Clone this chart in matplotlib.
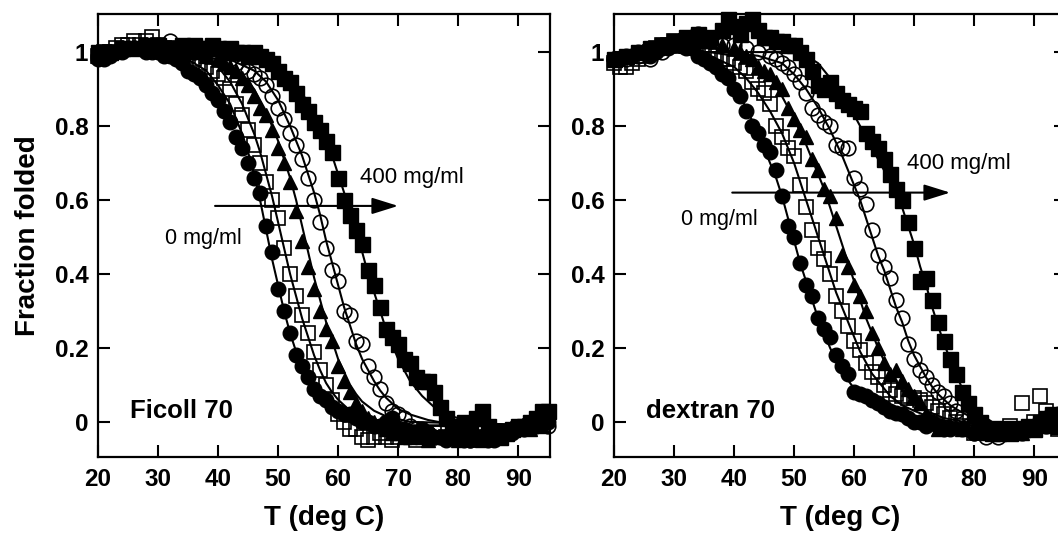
import matplotlib
matplotlib.use('Agg')
import matplotlib.pyplot as plt

plt.rcParams['font.family'] = ['Liberation Sans', 'DejaVu Sans']

# ---------------- axis ticks ----------------
x_ticks = [20, 30, 40, 50, 60, 70, 80, 90]
x_tick_labels = ['20', '30', '40', '50', '60', '70', '80', '90']
y_ticks = [0, 0.2, 0.4, 0.6, 0.8, 1.0]
y_tick_labels = ['0', '0.2', '0.4', '0.6', '0.8', '1']
panel_names = ['Ficoll 70', 'dextran 70']
low_label = '0 mg/ml'
high_label = '400 mg/ml'

# ---------------- Ficoll 70 (left) ----------------
L_circ_T = [20, 21, 22, 23, 24, 25, 26, 27, 28, 29,
            30, 31, 32, 33, 34, 35, 36, 37, 38, 39,
            40, 41, 42, 43, 44, 45, 46, 47, 48, 49,
            50, 51, 52, 53, 54, 55, 56, 57, 58, 59,
            60, 61, 62, 63, 64, 65, 66, 67, 68, 69,
            70, 71, 72, 73, 74, 75, 76, 77, 78, 79,
            80, 81, 82, 83, 84, 85, 86, 87, 88, 89,
            90, 91, 92, 93, 94, 95]
L_circ_F = [0.98, 0.98, 0.99, 1.00, 1.00, 1.01, 1.01, 1.01, 1.00, 1.00,
            1.00, 0.99, 0.99, 0.98, 0.97, 0.95, 0.94, 0.93, 0.91, 0.89,
            0.87, 0.84, 0.81, 0.77, 0.74, 0.70, 0.66, 0.62, 0.53, 0.46,
            0.36, 0.30, 0.24, 0.18, 0.15, 0.12, 0.09, 0.07, 0.06, 0.04,
            0.03, 0.02, 0.02, 0.01, 0.00, 0.00, -0.01, -0.01, 0.00, 0.01,
            -0.02, -0.02, -0.03, -0.03, -0.02, -0.03, -0.04, -0.04, -0.05, -0.04,
            -0.04, -0.05, -0.05, -0.04, -0.04, -0.05, -0.05, -0.04, -0.03, -0.03,
            -0.02, -0.02, -0.01, -0.01, 0.00, 0.00]

L_osq_T = [20, 21, 22, 23, 24, 25, 26, 27, 28, 29,
           30, 31, 32, 33, 34, 35, 36, 37, 38, 39,
           40, 41, 42, 43, 44, 45, 46, 47, 48, 49,
           50, 51, 52, 53, 54, 55, 56, 57, 58, 59,
           60, 61, 62, 63, 64, 65, 66, 67, 68, 69,
           70, 71, 72, 73, 74,
           76, 78, 80, 82, 84, 86, 88, 90, 92, 94]
L_osq_F = [0.99, 1.00, 1.00, 1.01, 1.02, 1.02, 1.03, 1.02, 1.03, 1.04,
           1.02, 1.01, 1.01, 1.00, 0.99, 0.99, 0.98, 0.97, 0.96, 0.95,
           0.94, 0.93, 0.90, 0.86, 0.83, 0.79, 0.75, 0.70, 0.65, 0.60,
           0.55, 0.47, 0.40, 0.34, 0.29, 0.24, 0.19, 0.14, 0.10, 0.06,
           0.02, 0.00, -0.02, -0.02, -0.04, -0.05, -0.04, -0.03, -0.04, -0.05,
           -0.04, -0.03, -0.04, -0.05, -0.04,
           -0.03, -0.04, -0.04, -0.05, -0.04, -0.03, -0.03, -0.02, -0.01, 0.00]

L_tri_T = [20, 22, 24, 26, 28, 30, 32, 34, 36, 38, 40,
           41, 42, 43, 44, 45, 46, 47, 48, 49, 50,
           51, 52, 53, 54, 55, 56, 57, 58, 59, 60,
           61, 62, 63, 64, 65, 66, 67, 68, 69, 70,
           71, 72, 73, 74, 75,
           76, 78, 80, 82, 84, 86, 88, 90, 92, 94]
L_tri_F = [0.99, 1.00, 1.01, 1.01, 1.02, 1.01, 1.01, 1.00, 1.00, 0.99, 0.98,
           0.97, 0.96, 0.95, 0.93, 0.91, 0.88, 0.85, 0.83, 0.79, 0.74,
           0.70, 0.65, 0.57, 0.49, 0.42, 0.36, 0.30, 0.25, 0.22, 0.15,
           0.11, 0.08, 0.05, 0.03, 0.01, 0.00, -0.01, -0.02, -0.03, -0.03,
           -0.04, -0.04, -0.03, -0.04, -0.05,
           -0.04, -0.04, -0.05, -0.04, -0.05, -0.04, -0.03, -0.02, -0.02, -0.01]

L_ocirc_T = [20, 22, 24, 26, 28, 30, 32, 34, 36, 38, 40,
             41, 42, 43, 44, 45, 46, 47, 48, 49, 50,
             51, 52, 53, 54, 55, 56, 57, 58, 59, 60,
             61, 62, 63, 64, 65, 66, 67, 68, 69, 70,
             71, 72, 73, 74, 75,
             76, 78, 80, 82, 84, 86, 88, 90, 92, 94, 95]
L_ocirc_F = [0.99, 1.00, 1.01, 1.01, 1.02, 1.02, 1.03, 1.01, 1.00, 1.00, 0.99,
             0.98, 0.98, 0.97, 0.96, 0.95, 0.94, 0.93, 0.91, 0.88, 0.85,
             0.82, 0.78, 0.75, 0.71, 0.66, 0.60, 0.54, 0.47, 0.41, 0.38,
             0.30, 0.29, 0.22, 0.21, 0.15, 0.12, 0.09, 0.05, 0.03, 0.02,
             0.01, -0.01, -0.02, -0.03, -0.03,
             -0.04, -0.04, -0.04, -0.05, -0.04, -0.04, -0.03, -0.02, -0.01, 0.00, -0.01]

L_fsq_T = [20, 22, 24, 26, 28, 30, 32, 34, 36,
           37, 38, 39, 40, 41, 42, 43, 44, 45, 46,
           47, 48, 49, 50, 51, 52, 53, 54, 55, 56,
           57, 58, 59, 60, 61, 62, 63, 64, 65, 66,
           67, 68, 69, 70, 71, 72, 73, 74, 75, 76,
           77, 78, 79, 80, 81, 82, 83, 84, 85, 86,
           87, 88, 89, 90, 91, 92, 93, 94, 95]
L_fsq_F = [1.00, 1.00, 1.01, 1.01, 1.02, 1.02, 1.01, 1.02, 1.02,
           1.01, 1.01, 1.02, 1.01, 1.00, 1.01, 1.00, 1.00, 0.99, 1.00,
           0.99, 0.98, 0.97, 0.95, 0.93, 0.92, 0.89, 0.86, 0.84, 0.81,
           0.79, 0.76, 0.73, 0.66, 0.60, 0.56, 0.52, 0.48, 0.41, 0.37,
           0.31, 0.25, 0.23, 0.21, 0.17, 0.16, 0.12, 0.11, 0.11, 0.08,
           0.04, 0.01, -0.01, -0.02, 0.00, -0.03, 0.01, 0.03, -0.01, -0.03,
           -0.04, -0.03, -0.02, -0.01, -0.01, 0.00, 0.01, 0.03, 0.03]

# fitted curves, Ficoll 70
L_fit_circ_T = [20, 30, 35, 38, 40, 42, 44, 45, 46, 47, 48, 49, 50, 51, 52, 53, 54, 55, 56, 57, 58, 60, 62, 65, 70, 95]
L_fit_circ_F = [1.0, 1.0, 0.98, 0.95, 0.91, 0.86, 0.78, 0.73, 0.67, 0.60, 0.52, 0.44, 0.37, 0.30, 0.24, 0.19, 0.15, 0.115, 0.085, 0.065, 0.048, 0.025, 0.012, 0.0, -0.01, -0.01]
L_fit_osq_T = [20, 30, 36, 40, 42, 44, 46, 47, 48, 49, 50, 51, 52, 53, 54, 55, 56, 57, 58, 59, 60, 62, 65, 70, 95]
L_fit_osq_F = [1.0, 1.0, 0.99, 0.96, 0.92, 0.86, 0.78, 0.73, 0.67, 0.61, 0.54, 0.47, 0.40, 0.34, 0.28, 0.23, 0.18, 0.14, 0.105, 0.08, 0.06, 0.03, 0.01, -0.01, -0.01]
L_fit_tri_T = [20, 34, 40, 44, 46, 48, 50, 51, 52, 53, 54, 55, 56, 57, 58, 59, 60, 61, 62, 63, 64, 66, 68, 72, 95]
L_fit_tri_F = [1.0, 1.0, 0.98, 0.94, 0.90, 0.84, 0.76, 0.71, 0.66, 0.60, 0.53, 0.46, 0.39, 0.33, 0.27, 0.22, 0.17, 0.135, 0.10, 0.075, 0.055, 0.03, 0.015, 0.0, -0.01]
L_fit_ocirc_T = [20, 36, 42, 46, 48, 50, 52, 54, 55, 56, 57, 58, 59, 60, 61, 62, 63, 64, 65, 66, 67, 68, 70, 72, 75, 80, 95]
L_fit_ocirc_F = [1.0, 1.0, 0.98, 0.95, 0.92, 0.87, 0.80, 0.72, 0.67, 0.62, 0.56, 0.49, 0.43, 0.37, 0.31, 0.26, 0.21, 0.17, 0.14, 0.11, 0.085, 0.065, 0.035, 0.02, 0.005, -0.01, -0.01]
L_fit_fsq_T = [20, 40, 46, 50, 52, 54, 56, 58, 59, 60, 61, 62, 63, 64, 65, 66, 67, 68, 69, 70, 71, 72, 73, 74, 76, 78, 81, 85, 95]
L_fit_fsq_F = [1.0, 1.0, 0.99, 0.96, 0.93, 0.89, 0.83, 0.76, 0.72, 0.67, 0.62, 0.57, 0.51, 0.46, 0.40, 0.35, 0.30, 0.25, 0.21, 0.17, 0.14, 0.11, 0.09, 0.07, 0.04, 0.02, 0.005, -0.005, -0.01]

# ---------------- dextran 70 (right) ----------------
R_circ_T = [20, 21, 22, 23, 24, 25, 26, 27, 28, 29,
            30, 31, 32, 33, 34, 35, 36, 37, 38, 39,
            40, 41, 42, 43, 44, 45, 46, 47, 48, 49,
            50, 51, 52, 53, 54, 55, 56, 57, 58, 59,
            60, 61, 62, 63, 64, 65, 66, 67, 68, 69,
            70, 71, 72, 73, 74, 75, 76,
            78, 80, 82, 84, 86, 88, 90, 92, 94]
R_circ_F = [0.98, 0.98, 0.99, 0.99, 1.00, 1.00, 0.99, 1.00, 1.01, 1.01,
            1.02, 1.02, 1.01, 1.01, 0.99, 0.98, 0.97, 0.96, 0.94, 0.93,
            0.90, 0.88, 0.84, 0.80, 0.78, 0.75, 0.73, 0.68, 0.61, 0.53,
            0.50, 0.43, 0.37, 0.34, 0.28, 0.25, 0.23, 0.18, 0.15, 0.13,
            0.08, 0.075, 0.07, 0.06, 0.05, 0.04, 0.03, 0.025, 0.02, 0.01,
            0.00, 0.00, -0.01, 0.00, -0.01, -0.02, -0.02,
            -0.02, -0.03, -0.02, -0.03, -0.03, -0.02, -0.01, 0.01, 0.02]

R_osq_T = [20, 21, 22, 23, 24, 25, 26, 27, 28, 29,
           30, 31, 32, 33, 34, 35, 36, 37, 38, 39,
           40, 41, 42, 43, 44, 45, 46, 47, 48, 49,
           50, 51, 52, 53, 54, 55, 56, 57, 58, 59,
           60, 61, 62, 63, 64, 65, 66, 67, 68, 69,
           70, 71, 72, 73, 74, 75, 76, 77, 78, 79,
           80, 81, 82, 84, 86, 88, 89, 90, 91, 92, 94]
R_osq_F = [0.97, 0.96, 0.96, 0.97, 0.98, 0.99, 1.00, 1.01, 1.02, 1.02,
           1.03, 1.02, 1.03, 1.02, 1.02, 1.01, 1.00, 0.99, 0.98, 0.98,
           0.97, 0.96, 0.95, 0.92, 0.90, 0.89, 0.86, 0.80, 0.77, 0.74,
           0.72, 0.64, 0.58, 0.52, 0.47, 0.44, 0.40, 0.34, 0.30, 0.26,
           0.22, 0.195, 0.16, 0.135, 0.12, 0.10, 0.085, 0.075, 0.07, 0.065,
           0.065, 0.06, 0.05, 0.04, 0.03, 0.02, 0.01, 0.00, -0.01, -0.02,
           -0.03, -0.03, -0.02, -0.02, -0.01, 0.05, -0.02, 0.00, 0.07, 0.03, -0.02]

R_tri_T = [20, 22, 24, 26, 28, 30, 32, 33, 34, 35, 36, 38, 40,
           41, 42, 43, 44, 45, 46, 47, 48, 49, 50,
           51, 52, 53, 54, 55, 56, 57, 58, 59, 60,
           61, 62, 63, 64, 65, 66, 67, 68, 69, 70,
           71, 72, 73, 74, 75, 76,
           78, 80, 82, 84, 86, 88, 90, 92, 94]
R_tri_F = [0.98, 0.99, 1.00, 1.01, 1.02, 1.03, 1.04, 1.05, 1.04, 1.03, 1.03, 1.02, 1.01,
           1.00, 0.99, 0.98, 0.96, 0.95, 0.94, 0.92, 0.90, 0.85, 0.82,
           0.79, 0.77, 0.71, 0.68, 0.63, 0.61, 0.55, 0.45, 0.42, 0.37,
           0.34, 0.30, 0.24, 0.20, 0.16, 0.13, 0.14, 0.11, 0.09, 0.07,
           0.05, 0.02, 0.00, -0.02, -0.01, -0.01,
           -0.02, -0.02, -0.03, -0.03, -0.02, -0.03, -0.02, -0.01, -0.01]

R_ocirc_T = [20, 22, 24, 26, 28, 30, 32, 34, 36, 38, 40, 42, 44, 46,
             47, 48, 49, 50, 51, 52, 53, 54, 55, 56,
             57, 58, 59, 60, 61, 62, 63, 64, 65, 66,
             67, 68, 69, 70, 71, 72, 73, 74, 75, 76,
             77, 78, 79, 80,
             82, 84, 86, 88, 90, 92, 94]
R_ocirc_F = [0.98, 0.98, 0.99, 0.98, 1.00, 1.02, 1.03, 1.05, 1.03, 1.02, 1.02, 1.01, 1.00, 0.99,
             0.98, 0.97, 0.96, 0.94, 0.92, 0.89, 0.85, 0.83, 0.81, 0.80,
             0.75, 0.74, 0.74, 0.66, 0.63, 0.59, 0.52, 0.45, 0.42, 0.39,
             0.33, 0.28, 0.21, 0.17, 0.14, 0.12, 0.10, 0.08, 0.07, 0.05,
             0.03, 0.01, -0.01, -0.03,
             -0.04, -0.04, -0.03, -0.03, -0.02, -0.01, 0.00]

R_fsq_T = [20, 22, 24, 26, 28, 30, 32, 34, 36,
           38, 39, 40, 41, 42, 43, 44, 45, 46, 47,
           48, 49, 50, 51, 52, 53, 54, 55, 56, 57,
           58, 59, 60, 61, 62, 63, 64, 65, 66, 67,
           68, 69, 70, 71, 72, 73, 74, 75, 76, 77,
           78, 79, 80, 81, 82, 83, 84, 85, 86, 87,
           88, 89, 90, 91, 92, 93, 94]
R_fsq_F = [0.98, 0.99, 1.00, 1.01, 1.02, 1.03, 1.04, 1.05, 1.04,
           1.06, 1.09, 1.07, 1.05, 1.08, 1.09, 1.06, 1.04, 1.04, 1.03,
           1.03, 1.02, 1.02, 1.00, 0.98, 0.95, 0.91, 0.90, 0.92, 0.89,
           0.87, 0.86, 0.85, 0.84, 0.78, 0.76, 0.74, 0.71, 0.67, 0.63,
           0.60, 0.54, 0.47, 0.38, 0.39, 0.33, 0.27, 0.22, 0.17, 0.13,
           0.08, 0.05, 0.02, 0.00, -0.02, -0.03, -0.03, -0.02, -0.03, -0.02,
           -0.02, -0.01, -0.02, 0.00, 0.01, 0.02, -0.01]

# fitted curves, dextran 70
R_fit_circ_T = [20, 30, 34, 36, 38, 40, 42, 44, 46, 47, 48, 49, 50, 51, 52, 53, 54, 55, 56, 57, 58, 60, 62, 64, 66, 68, 72, 80, 95]
R_fit_circ_F = [1.0, 1.0, 0.99, 0.97, 0.95, 0.91, 0.85, 0.78, 0.70, 0.66, 0.61, 0.55, 0.49, 0.43, 0.38, 0.33, 0.28, 0.24, 0.20, 0.165, 0.135, 0.09, 0.06, 0.04, 0.025, 0.015, 0.0, -0.01, -0.01]
R_fit_osq_T = [20, 32, 36, 40, 42, 44, 46, 48, 50, 51, 52, 53, 54, 55, 56, 57, 58, 59, 60, 61, 62, 63, 64, 66, 68, 70, 73, 78, 95]
R_fit_osq_F = [1.0, 1.0, 0.99, 0.96, 0.93, 0.89, 0.84, 0.78, 0.70, 0.65, 0.60, 0.55, 0.50, 0.45, 0.40, 0.35, 0.31, 0.27, 0.23, 0.19, 0.16, 0.13, 0.11, 0.07, 0.045, 0.03, 0.01, -0.005, -0.01]
R_fit_tri_T = [20, 36, 40, 44, 46, 48, 50, 52, 53, 54, 55, 56, 57, 58, 59, 60, 61, 62, 63, 64, 65, 66, 67, 68, 70, 72, 75, 80, 95]
R_fit_tri_F = [1.0, 1.0, 0.99, 0.96, 0.93, 0.88, 0.82, 0.75, 0.71, 0.67, 0.63, 0.58, 0.53, 0.48, 0.43, 0.38, 0.33, 0.28, 0.24, 0.20, 0.165, 0.135, 0.11, 0.085, 0.05, 0.03, 0.01, -0.005, -0.01]
R_fit_ocirc_T = [20, 38, 44, 48, 50, 52, 54, 56, 58, 59, 60, 61, 62, 63, 64, 65, 66, 67, 68, 69, 70, 71, 72, 73, 74, 76, 78, 80, 84, 95]
R_fit_ocirc_F = [1.0, 1.0, 0.99, 0.97, 0.94, 0.90, 0.85, 0.79, 0.72, 0.68, 0.64, 0.60, 0.55, 0.50, 0.45, 0.41, 0.36, 0.31, 0.27, 0.22, 0.18, 0.15, 0.12, 0.095, 0.075, 0.045, 0.025, 0.01, -0.005, -0.01]
R_fit_fsq_T = [20, 44, 50, 52, 54, 56, 58, 60, 62, 63, 64, 65, 66, 67, 68, 69, 70, 71, 72, 73, 74, 75, 76, 77, 78, 79, 80, 81, 82, 83, 95]
R_fit_fsq_F = [1.0, 1.0, 1.0, 0.99, 0.97, 0.93, 0.88, 0.83, 0.77, 0.74, 0.71, 0.68, 0.65, 0.62, 0.58, 0.53, 0.48, 0.42, 0.37, 0.31, 0.26, 0.21, 0.17, 0.13, 0.09, 0.06, 0.04, 0.02, 0.01, 0.0, 0.0]

# annotation positions (data coords)
L_arrow = (39.5, 70.0, 0.584)
R_arrow = (39.7, 76.0, 0.62)
L_low_pos = (44.0, 0.497)     # right edge of text
L_high_pos = (63.7, 0.662)    # left edge of text
R_low_pos = (43.9, 0.546)
R_high_pos = (68.8, 0.70)
name_pos = (25.3, 0.03)

# ---------------- styles ----------------
styles = [
    dict(marker='o', ms=10.5, mfc='black', mec='black', mew=1.0),
    dict(marker='s', ms=9.5, mfc='none', mec='black', mew=1.2),
    dict(marker='^', ms=10.5, mfc='black', mec='black', mew=1.0),
    dict(marker='o', ms=10.5, mfc='none', mec='black', mew=1.2),
    dict(marker='s', ms=10.8, mfc='black', mec='black', mew=1.0),
]

W, H = 1058, 533
fig = plt.figure(figsize=(W / 100, H / 100), dpi=100)
ax_l = fig.add_axes([98 / W, 76 / H, 452 / W, 443 / H])
ax_r = fig.add_axes([614 / W, 76 / H, 452 / W, 443 / H])

panels = [
    (ax_l,
     [(L_circ_T, L_circ_F), (L_osq_T, L_osq_F), (L_tri_T, L_tri_F), (L_ocirc_T, L_ocirc_F), (L_fsq_T, L_fsq_F)],
     [(L_fit_circ_T, L_fit_circ_F), (L_fit_osq_T, L_fit_osq_F), (L_fit_tri_T, L_fit_tri_F),
      (L_fit_ocirc_T, L_fit_ocirc_F), (L_fit_fsq_T, L_fit_fsq_F)],
     L_arrow, L_low_pos, L_high_pos, panel_names[0]),
    (ax_r,
     [(R_circ_T, R_circ_F), (R_osq_T, R_osq_F), (R_tri_T, R_tri_F), (R_ocirc_T, R_ocirc_F), (R_fsq_T, R_fsq_F)],
     [(R_fit_circ_T, R_fit_circ_F), (R_fit_osq_T, R_fit_osq_F), (R_fit_tri_T, R_fit_tri_F),
      (R_fit_ocirc_T, R_fit_ocirc_F), (R_fit_fsq_T, R_fit_fsq_F)],
     R_arrow, R_low_pos, R_high_pos, panel_names[1]),
]

for ax, series, fits, arrow, low_pos, high_pos, name in panels:
    for (ft, ff) in fits:
        ax.plot(ft, ff, color='black', lw=1.5, zorder=2)
    for (st, sf), sty in zip(series, styles):
        ax.plot(st, sf, linestyle='none', clip_on=False, zorder=3, **sty)

    ax.set_xlim(20, 95.3)
    ax.set_ylim(-0.095, 1.103)
    ax.set_xticks(x_ticks)
    ax.set_xticklabels(x_tick_labels)
    ax.set_yticks(y_ticks)
    ax.set_yticklabels(y_tick_labels)
    ax.tick_params(direction='in', top=True, right=True, length=8.5, width=1.5,
                   labelsize=17.5)
    ax.tick_params(axis='x', pad=8)
    ax.tick_params(axis='y', pad=7)
    for lab in ax.get_xticklabels() + ax.get_yticklabels():
        lab.set_fontweight('bold')
    for sp in ax.spines.values():
        sp.set_linewidth(1.6)
    ax.set_xlabel('T (deg C)', fontsize=20, fontweight='bold', labelpad=10)

    x0, x1, ya = arrow
    ax.annotate('', xy=(x1, ya), xytext=(x0, ya),
                arrowprops=dict(arrowstyle='-|>,head_length=0.8,head_width=0.25',
                                mutation_scale=20, lw=1.5, color='black',
                                shrinkA=0, shrinkB=0), zorder=4)
    ax.text(low_pos[0], low_pos[1], low_label, fontsize=15.5, ha='right', va='center', zorder=5)
    ax.text(high_pos[0], high_pos[1], high_label, fontsize=16, ha='left', va='center', zorder=5)
    ax.text(name_pos[0], name_pos[1], name, fontsize=18.5, fontweight='bold',
            ha='left', va='center', zorder=5)

ax_l.set_ylabel('Fraction folded', fontsize=20, fontweight='bold', labelpad=10)

fig.savefig('out.png', dpi=100)
